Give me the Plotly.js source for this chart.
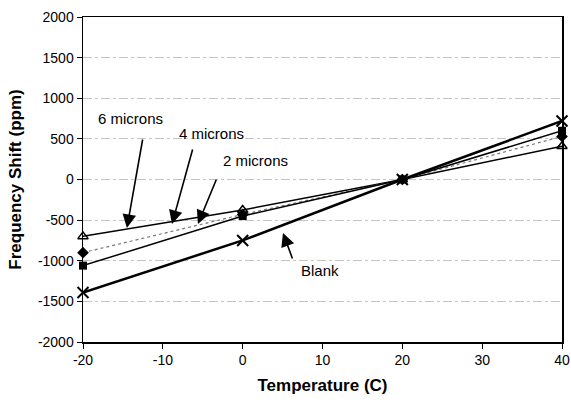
<!DOCTYPE html>
<html>
<head>
<meta charset="utf-8">
<script src="https://cdn.plot.ly/plotly-3.0.1.min.js"></script>
<style>html,body{margin:0;padding:0;background:#fff;}#chart{width:571px;height:408px;}</style>
</head>
<body>
<div id="chart"></div>
<script>
const temperatures = [-20, 0, 20, 40];
const blank = [-1390, -750, 0, 720];
const microns2 = [-1060, -450, 0, 600];
const microns4 = [-900, -430, 0, 530];
const microns6 = [-700, -375, 0, 410];
const xTicks = [-20, -10, 0, 10, 20, 30, 40];
const xTickLabels = ["-20", "-10", "0", "10", "20", "30", "40"];
const yTicks = [-2000, -1500, -1000, -500, 0, 500, 1000, 1500, 2000];
const yTickLabels = ["-2000", "-1500", "-1000", "-500", "0", "500", "1000", "1500", "2000"];

const labelNames = ["6 microns", "4 microns", "2 microns", "Blank"];
const labelX = [-14.1, -3.85, 1.65, 9.7];
const labelY = [745, 572, 228, -1126];
const arrowTipX = [-14.5, -8.85, -5.6, 5.05];
const arrowTipY = [-597, -548, -548, -658];
const arrowAx = [16, 21, 19, 10];
const arrowAy = [-90, -76, -46, 27];

const FONT = 'Liberation Sans, Arial, sans-serif';

const traces = [
  {x: temperatures, y: microns6, mode: 'lines+markers', name: '6 microns', cliponaxis: false,
   line: {color: '#000', width: 1.5},
   marker: {symbol: 'triangle-up-open', size: 9, color: '#000', line: {width: 1.5}}},
  {x: temperatures, y: microns4, mode: 'lines+markers', name: '4 microns', cliponaxis: false,
   line: {color: '#777', width: 1.2, dash: 'dot'},
   marker: {symbol: 'diamond', size: 9, color: '#000'}},
  {x: temperatures, y: microns2, mode: 'lines+markers', name: '2 microns', cliponaxis: false,
   line: {color: '#000', width: 1.5},
   marker: {symbol: 'square', size: 8, color: '#000'}},
  {x: temperatures, y: blank, mode: 'lines+markers', name: 'Blank', cliponaxis: false,
   line: {color: '#000', width: 2.5},
   marker: {symbol: 'x-thin-open', size: 11, color: '#000', line: {width: 2, color: '#000'}}}
];

const annotations = [];
for (let i = 0; i < labelNames.length; i++) {
  annotations.push({x: labelX[i], y: labelY[i], xref: 'x', yref: 'y', text: labelNames[i],
    showarrow: false, font: {family: FONT, size: 15, color: '#000'}});
  annotations.push({x: arrowTipX[i], y: arrowTipY[i], xref: 'x', yref: 'y', text: '',
    showarrow: true, arrowhead: 2, arrowsize: 1.7, arrowwidth: 1.6, arrowcolor: '#000',
    ax: arrowAx[i], ay: arrowAy[i], standoff: 0});
}

const axisCommon = {
  showline: true, linecolor: '#000', linewidth: 1.5, mirror: true,
  ticks: 'outside', ticklen: 5, tickcolor: '#000', tickwidth: 1,
  zeroline: false, showgrid: true, gridcolor: '#c4c4c4', gridwidth: 1,
  tickfont: {family: FONT, size: 14, color: '#000'}
};

const layout = {
  width: 571, height: 408,
  margin: {l: 83, r: 9, t: 17, b: 66},
  paper_bgcolor: '#fff', plot_bgcolor: '#fff',
  showlegend: false,
  xaxis: Object.assign({}, axisCommon, {
    range: [-20, 40], tickmode: 'array', tickvals: xTicks, ticktext: xTickLabels, showgrid: false,
    title: {text: 'Temperature (C)', standoff: 12,
      font: {family: FONT, size: 17, color: '#000', weight: 'bold'}}
  }),
  yaxis: Object.assign({}, axisCommon, {
    range: [-2000, 2000], tickmode: 'array', tickvals: yTicks, ticktext: yTickLabels, griddash: 'dashdot',
    title: {text: 'Frequency Shift (ppm)', standoff: 12,
      font: {family: FONT, size: 17, color: '#000', weight: 'bold'}}
  }),
  annotations: annotations
};

Plotly.newPlot('chart', traces, layout, {displayModeBar: false, staticPlot: true});
</script>
</body>
</html>
